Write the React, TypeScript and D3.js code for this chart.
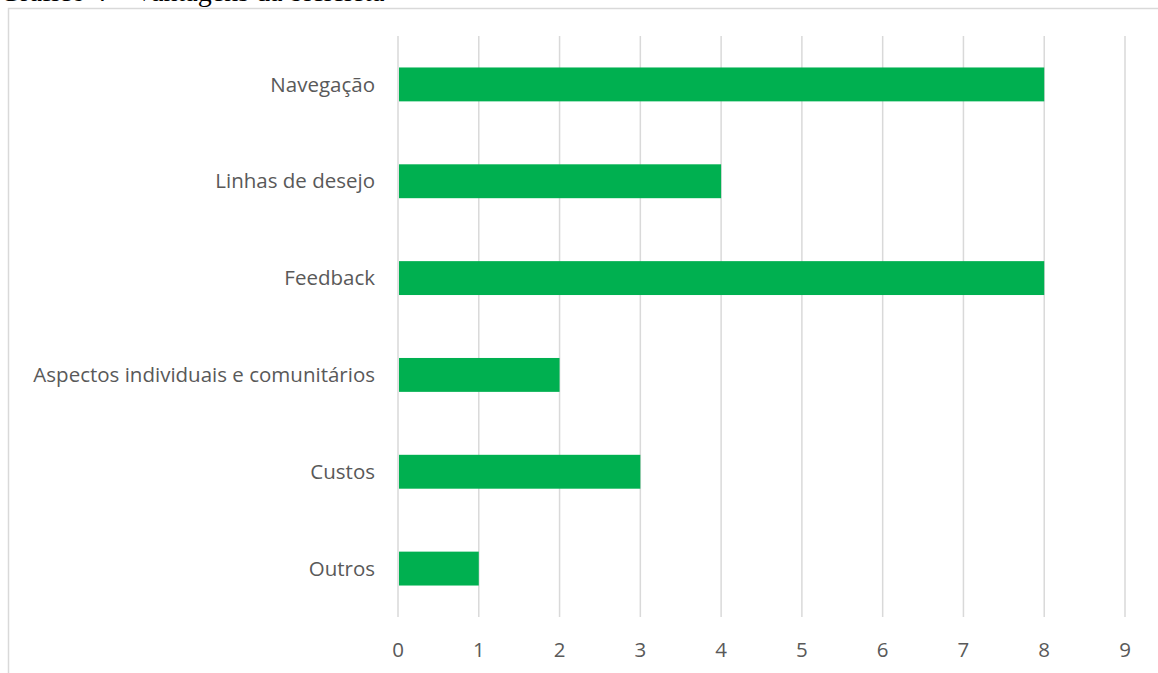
import React from "react";
import * as d3 from "d3";

const categories = ["Navegação", "Linhas de desejo", "Feedback", "Aspectos individuais e comunitários", "Custos", "Outros"];
const values = [8, 4, 8, 2, 3, 1];
const ticks = [0, 1, 2, 3, 4, 5, 6, 7, 8, 9];
const title = "Gráfico 4 – Vantagens da bicicleta";

export default function App() {
  const W = 1158, H = 673;
  const x = d3.scaleLinear().domain([0, 9]).range([398, 1125]);
  const y = d3.scaleBand<string>().domain(categories).range([36, 617]).paddingInner(0.65).paddingOuter(0.325);
  const font = "'Open Sans', sans-serif";
  return (
    <svg width={W} height={H} style={{ position: "absolute", left: 0, top: 0 }}>
      <rect width={W} height={H} fill="#fff" />
      <text x={0} y={1} fontFamily="'Liberation Serif', serif" fontSize={28} fill="#000">{title}</text>
      <rect x={8.5} y={8.5} width={W + 10} height={H + 10} fill="none" stroke="#d9d9d9" strokeWidth={1.5} />
      {ticks.map(t => (
        <line key={t} x1={x(t)} x2={x(t)} y1={36} y2={617} stroke="#d9d9d9" strokeWidth={1.5} />
      ))}
      {categories.map((c, i) => (
        <rect key={c} x={x(0) + 1} y={y(c)!} width={x(values[i]) - x(0) - 1} height={y.bandwidth()} fill="#00B050" />
      ))}
      {categories.map(c => (
        <text key={c} x={375} y={y(c)! + y.bandwidth() / 2} dy="0.35em" textAnchor="end" fontFamily={font} fontSize={20.5} fill="#595959">{c}</text>
      ))}
      {ticks.map(t => (
        <text key={t} x={x(t)} y={650} dy="0.35em" textAnchor="middle" fontFamily={font} fontSize={20.5} fill="#595959">{t}</text>
      ))}
    </svg>
  );
}
